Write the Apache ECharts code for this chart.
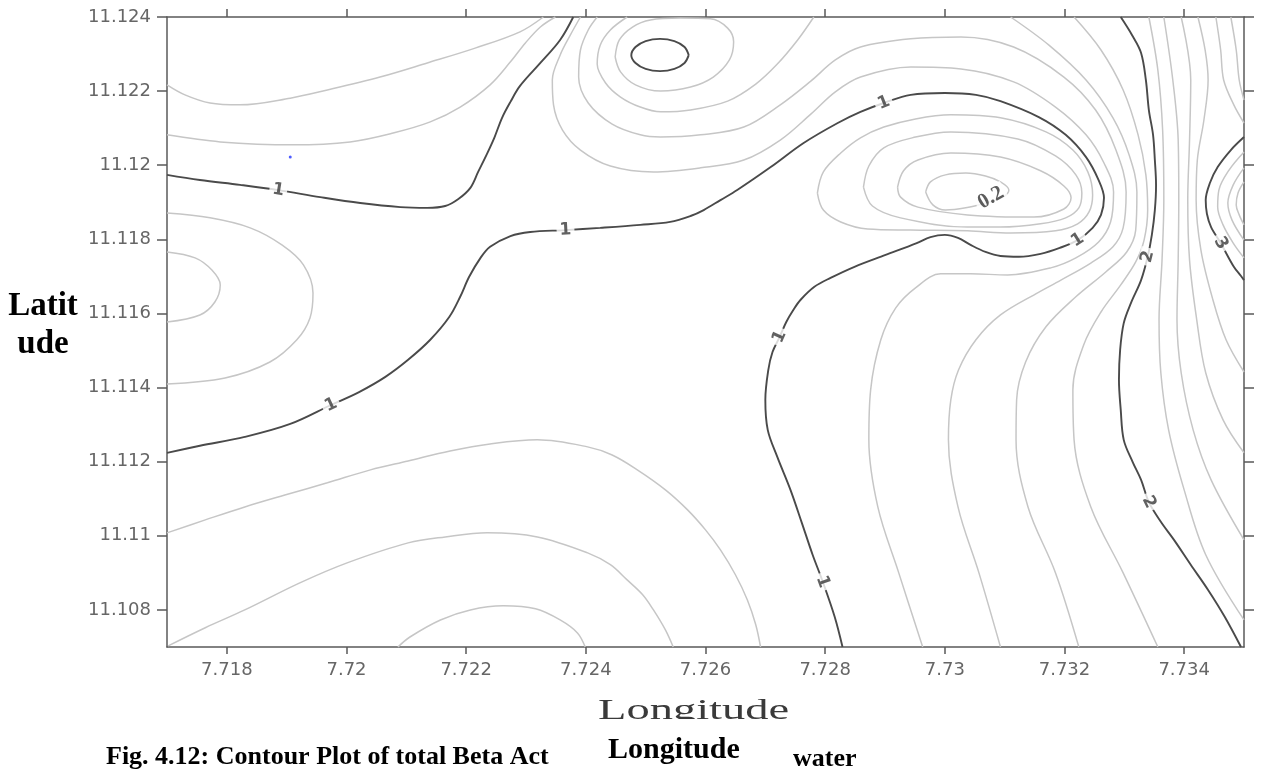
<!DOCTYPE html>
<html>
<head>
<meta charset="utf-8">
<title>Contour Plot of total Beta Activity</title>
<script src="https://cdn.jsdelivr.net/npm/echarts@6/dist/echarts.min.js"></script>
<style>
html, body { margin: 0; padding: 0; background: #fff; }
#main { width: 1269px; height: 771px; }
</style>
</head>
<body>
<div id="main"></div>
<script>
// axis ranges and tick labels
var lonRange = [7.717, 7.735];
var latRange = [11.107, 11.124];
var lonTicks = [7.718, 7.72, 7.722, 7.724, 7.726, 7.728, 7.73, 7.732, 7.734];
var latTicks = [11.108, 11.11, 11.112, 11.114, 11.116, 11.118, 11.12, 11.122, 11.124];

// contour lines [longitude, latitude]
// level 1 (dark lines)
var level1North = [[7.717,11.11974],[7.71755,11.1196],[7.71822,11.11947],[7.71886,11.11933],[7.71956,11.11914],[7.72023,11.11898],[7.7209,11.11887],[7.72135,11.11885],[7.72165,11.1189],[7.72187,11.11909],[7.72207,11.11939],[7.7222,11.11982],[7.72234,11.12028],[7.72247,11.12074],[7.7226,11.12128],[7.72274,11.12171],[7.7229,11.12214],[7.72324,11.12276],[7.72357,11.12338],[7.72379,11.124]];
var level1Main = [[7.717,11.11224],[7.71755,11.11243],[7.7183,11.11267],[7.71906,11.11302],[7.71974,11.11353],[7.72021,11.11388],[7.72065,11.11429],[7.72103,11.11475],[7.7214,11.11529],[7.72172,11.11591],[7.7219,11.11645],[7.72205,11.11699],[7.72224,11.1175],[7.7224,11.1178],[7.72274,11.11809],[7.72307,11.1182],[7.72366,11.11825],[7.72424,11.11831],[7.72491,11.11839],[7.72541,11.11847],[7.72575,11.11863],[7.72597,11.11879],[7.72625,11.11906],[7.72653,11.11933],[7.72709,11.11995],[7.72764,11.1206],[7.72821,11.12114],[7.72859,11.12144],[7.72898,11.12168],[7.72943,11.1219],[7.73,11.12195],[7.73052,11.1219],[7.73093,11.12173],[7.73157,11.1213],[7.73202,11.12082],[7.73236,11.12022],[7.73257,11.1196],[7.73266,11.11912],[7.73261,11.11866],[7.73247,11.11831],[7.73222,11.11798],[7.73192,11.11777],[7.7316,11.11761],[7.73124,11.11753],[7.73093,11.11755],[7.73068,11.11766],[7.73043,11.11785],[7.73022,11.11804],[7.73,11.11812],[7.72976,11.11806],[7.72953,11.1179],[7.72901,11.11758],[7.72849,11.11726],[7.72809,11.11696],[7.72782,11.11672],[7.72759,11.11637],[7.72747,11.1161],[7.72735,11.11577],[7.72724,11.11537],[7.72712,11.11496],[7.72705,11.11448],[7.727,11.11367],[7.72704,11.11286],[7.7272,11.11213],[7.72742,11.11124],[7.72761,11.11035],[7.72779,11.10949],[7.72796,11.10876],[7.72816,11.10781],[7.72829,11.107]];
// level 2 and 3 (dark lines)
var level2Peak = [[7.72572,11.12297],[7.72565,11.12276],[7.72548,11.1226],[7.72524,11.12254],[7.725,11.1226],[7.72483,11.12276],[7.72476,11.12297],[7.72483,11.12319],[7.725,11.12335],[7.72524,11.12341],[7.72548,11.12335],[7.72565,11.12319],[7.72572,11.12297]];
var level2East = [[7.73294,11.124],[7.73313,11.12351],[7.73328,11.12303],[7.73336,11.1223],[7.73341,11.12149],[7.73348,11.12082],[7.73351,11.12014],[7.73353,11.11947],[7.73351,11.11879],[7.73346,11.11812],[7.73339,11.11753],[7.73328,11.1169],[7.73311,11.11628],[7.73299,11.11574],[7.73293,11.11502],[7.73291,11.11421],[7.73294,11.1134],[7.73299,11.11259],[7.73314,11.11199],[7.73328,11.11151],[7.73341,11.11091],[7.73361,11.11038],[7.73383,11.10989],[7.73411,11.10922],[7.7344,11.10854],[7.73468,11.10781],[7.73495,11.107]];
var level3East = [[7.735,11.12076],[7.73478,11.12041],[7.73456,11.11995],[7.73443,11.11952],[7.73436,11.11906],[7.73438,11.11869],[7.73445,11.11833],[7.73461,11.1179],[7.73483,11.11726],[7.73495,11.11701],[7.735,11.1169]];

// intermediate levels (light lines)
var low02 = [[7.72968,11.11928],[7.72976,11.11955],[7.73001,11.11974],[7.73035,11.11979],[7.73068,11.11971],[7.73093,11.11955],[7.73107,11.11933],[7.73097,11.11914],[7.73068,11.11898],[7.73035,11.11885],[7.73001,11.11879],[7.7298,11.11893],[7.72968,11.11928]];
var low04 = [[7.72921,11.11941],[7.72931,11.11985],[7.72955,11.12014],[7.7301,11.12033],[7.73093,11.12022],[7.7316,11.11985],[7.73199,11.11944],[7.73211,11.11912],[7.73199,11.11882],[7.73149,11.1186],[7.73038,11.11866],[7.72955,11.11887],[7.72926,11.11914],[7.72921,11.11941]];
var low06 = [[7.72864,11.11941],[7.72873,11.11998],[7.72898,11.12047],[7.72951,11.12076],[7.7301,11.1209],[7.73122,11.12071],[7.73185,11.12025],[7.73219,11.11974],[7.73229,11.11925],[7.73224,11.11885],[7.73202,11.11858],[7.7316,11.11842],[7.73093,11.11833],[7.73038,11.11833],[7.72926,11.11858],[7.72879,11.1189],[7.72864,11.11941]];
var low08 = [[7.72787,11.11925],[7.72797,11.11982],[7.72826,11.12033],[7.72859,11.12074],[7.72898,11.12103],[7.72951,11.12125],[7.7301,11.12136],[7.73093,11.12128],[7.73169,11.1209],[7.73214,11.12041],[7.73239,11.11982],[7.73247,11.1192],[7.73241,11.11874],[7.73222,11.11842],[7.73185,11.11823],[7.7311,11.11817],[7.73038,11.11823],[7.72943,11.11825],[7.72871,11.11828],[7.72826,11.11847],[7.72797,11.11879],[7.72787,11.11925]];
var north06 = [[7.717,11.12217],[7.7173,11.1219],[7.71772,11.12168],[7.71822,11.12163],[7.71906,11.12181],[7.71968,11.12203],[7.72056,11.12238],[7.72135,11.12276],[7.72215,11.12316],[7.7229,11.1236],[7.72329,11.124]];
var north08 = [[7.717,11.12082],[7.71789,11.12063],[7.71911,11.12055],[7.72006,11.12063],[7.72078,11.12087],[7.7214,11.12117],[7.7219,11.12157],[7.7224,11.12217],[7.72274,11.12279],[7.72299,11.1233],[7.72324,11.12373],[7.72349,11.124]];
var west12 = [[7.717,11.11871],[7.71772,11.11858],[7.71839,11.11831],[7.71892,11.11785],[7.71928,11.11731],[7.71944,11.11655],[7.71939,11.11588],[7.71917,11.11529],[7.71872,11.11469],[7.71797,11.11426],[7.717,11.1141]];
var west14 = [[7.717,11.11766],[7.71747,11.1175],[7.71775,11.11717],[7.71789,11.11677],[7.7178,11.11631],[7.71755,11.11596],[7.717,11.11577]];
var south08 = [[7.717,11.11008],[7.71764,11.11043],[7.7183,11.11078],[7.71897,11.1111],[7.71968,11.11143],[7.7204,11.11178],[7.72103,11.11202],[7.72173,11.11229],[7.7224,11.11248],[7.72319,11.11259],[7.72403,11.1124],[7.72444,11.11218],[7.72486,11.11178],[7.72533,11.11124],[7.7257,11.1107],[7.726,11.11016],[7.72625,11.10962],[7.7265,11.10895],[7.7267,11.10827],[7.72684,11.1076],[7.72692,11.107]];
var south06 = [[7.71702,11.10703],[7.71764,11.10752],[7.7183,11.108],[7.71922,11.10873],[7.72001,11.10927],[7.72103,11.10981],[7.72165,11.10997],[7.72235,11.11008],[7.72319,11.10997],[7.72403,11.10954],[7.72441,11.10922],[7.72469,11.10881],[7.72495,11.10841],[7.72513,11.108],[7.72533,11.10746],[7.72546,11.107]];
var south04 = [[7.72086,11.107],[7.72106,11.10727],[7.72157,11.10773],[7.72207,11.108],[7.72262,11.10811],[7.72316,11.10803],[7.72357,11.10773],[7.72386,11.10738],[7.72399,11.107]];
var band12 = [[7.72391,11.124],[7.72374,11.12351],[7.72357,11.12297],[7.72344,11.1223],[7.72346,11.12163],[7.72361,11.12095],[7.72391,11.12041],[7.72441,11.11998],[7.72513,11.11982],[7.72592,11.11993],[7.72664,11.12014],[7.72725,11.12068],[7.72776,11.12138],[7.72817,11.12198],[7.72859,11.12238],[7.72943,11.12265],[7.73027,11.1226],[7.73115,11.12225],[7.73185,11.12157],[7.73236,11.12082],[7.73266,11.12006],[7.73282,11.11928],[7.73277,11.11847],[7.73257,11.11793],[7.73219,11.1175],[7.73177,11.11723],[7.73105,11.11704],[7.73043,11.11707],[7.72993,11.11707],[7.72951,11.11669],[7.72918,11.11615],[7.72893,11.11529],[7.72876,11.11394],[7.72873,11.11259],[7.72888,11.11078],[7.72923,11.109],[7.72963,11.107]];
var band14 = [[7.72419,11.124],[7.72404,11.12365],[7.72391,11.12311],[7.72388,11.12238],[7.72404,11.12168],[7.72444,11.12111],[7.72491,11.12082],[7.72525,11.12076],[7.72592,11.12082],[7.72664,11.12103],[7.72725,11.12163],[7.72776,11.12227],[7.72817,11.12284],[7.72859,11.12319],[7.72943,11.12341],[7.73027,11.12346],[7.73115,11.12319],[7.73199,11.12238],[7.73252,11.12149],[7.73286,11.12041],[7.73303,11.11928],[7.73298,11.11831],[7.73281,11.1178],[7.73244,11.11736],[7.73194,11.1169],[7.73152,11.11653],[7.73093,11.11596],[7.73052,11.11529],[7.73023,11.11448],[7.7301,11.11367],[7.73006,11.11259],[7.73022,11.11078],[7.73057,11.109],[7.73093,11.107]];
var peak16 = [[7.72469,11.124],[7.72441,11.12365],[7.72424,11.12324],[7.72419,11.12273],[7.72433,11.12222],[7.72458,11.12184],[7.72491,11.12157],[7.72525,11.12144],[7.72575,11.12149],[7.72637,11.12173],[7.72684,11.12219],[7.7272,11.12273],[7.72754,11.12338],[7.72781,11.124]];
var peak18 = [[7.72449,11.12292],[7.72456,11.12338],[7.72478,11.12373],[7.72508,11.12392],[7.72558,11.12397],[7.72608,11.12395],[7.72637,11.1237],[7.72647,11.12333],[7.7264,11.12284],[7.72613,11.12238],[7.72575,11.12211],[7.72525,11.122],[7.72483,11.12217],[7.72458,11.12252],[7.72449,11.12292]];
var band16 = [[7.7311,11.124],[7.73174,11.12324],[7.73236,11.1223],[7.73281,11.12128],[7.73308,11.12028],[7.73321,11.11928],[7.73319,11.11825],[7.73304,11.11766],[7.73269,11.11712],[7.73219,11.11645],[7.73169,11.11564],[7.73135,11.11469],[7.7312,11.11367],[7.73119,11.11259],[7.73139,11.11078],[7.73185,11.109],[7.73224,11.107]];
var band18 = [[7.73216,11.124],[7.73261,11.12311],[7.73298,11.12203],[7.73323,11.12082],[7.73336,11.11974],[7.73339,11.11879],[7.73333,11.11798],[7.73319,11.11739],[7.73294,11.11677],[7.73261,11.11604],[7.73232,11.11515],[7.73214,11.11394],[7.73216,11.11259],[7.73244,11.11078],[7.73298,11.109],[7.73356,11.107]];
var east22 = [[7.73341,11.124],[7.73356,11.12257],[7.73364,11.12095],[7.73366,11.11906],[7.73363,11.11744],[7.73358,11.11583],[7.73361,11.1144],[7.73374,11.11286],[7.734,11.11124],[7.73436,11.10949],[7.735,11.10773]];
var east24 = [[7.73366,11.124],[7.73381,11.1223],[7.7339,11.12068],[7.73391,11.11906],[7.7339,11.11744],[7.73388,11.11583],[7.73395,11.1144],[7.73415,11.11286],[7.73445,11.11151],[7.735,11.10989]];
var east26 = [[7.73395,11.124],[7.73411,11.1223],[7.73409,11.12068],[7.73406,11.11906],[7.73409,11.11744],[7.73421,11.11583],[7.73436,11.1144],[7.73465,11.11313],[7.735,11.11224]];
var east28 = [[7.73423,11.124],[7.73435,11.12311],[7.7344,11.1223],[7.73433,11.12122],[7.73422,11.12014],[7.7342,11.11906],[7.73428,11.11771],[7.73448,11.11637],[7.7347,11.11529],[7.735,11.11442]];
var corner28 = [[7.73453,11.124],[7.73461,11.12311],[7.73466,11.1223],[7.73483,11.12163],[7.735,11.12114]];
var corner26 = [[7.73478,11.124],[7.73487,11.12311],[7.73492,11.1223],[7.735,11.12176]];
var east32 = [[7.735,11.12036],[7.73475,11.11987],[7.73458,11.11933],[7.73456,11.11887],[7.73465,11.11839],[7.73482,11.1179],[7.735,11.1175]];
var east34 = [[7.735,11.11993],[7.73482,11.11947],[7.73473,11.11898],[7.7348,11.11852],[7.735,11.11798]];
var east36 = [[7.735,11.11955],[7.7349,11.11925],[7.73487,11.11893],[7.73492,11.11866],[7.735,11.11839]];

// contour labels [longitude, latitude, text] and their angles along the line
var contourLabels = [
    [7.71886, 11.11933, '1'], [7.71974, 11.11353, '1'], [7.72366, 11.11825, '1'],
    [7.72898, 11.12168, '1'], [7.73222, 11.11798, '1'], [7.72724, 11.11537, '1'],
    [7.72796, 11.10876, '1'], [7.73339, 11.11753, '2'], [7.73341, 11.11091, '2'],
    [7.73461, 11.1179, '3'], [7.73077, 11.11912, '0.2']
];
var labelAngles = [-9, 25, 3, 22, 32, 66, -70, 76, -64, -60, 30];

// sample station
var samplePoints = [[7.71906, 11.12022]];

var majorLines = [level1North, level1Main, level2Peak, level2East, level3East];
var minorLines = [low02, low04, low06, low08, north06, north08, west12, west14,
    south08, south06, south04, band12, band14, peak16, peak18, band16, band18,
    east22, east24, east26, east28, corner28, corner26, east32, east34, east36];

function contourPlot(divId) {
    var myChart = echarts.init(document.getElementById(divId));
    var tickFmt = function (v) { return String(+v.toFixed(3)); };
    var axisLine = { show: true, lineStyle: { color: '#5a5a5a', width: 1.5 } };

    var series = [];
    minorLines.forEach(function (d) {
        series.push({
            type: 'line', data: d, smooth: 0.35, showSymbol: false, silent: true, z: 2,
            lineStyle: { color: '#c6c6c6', width: 1.5 }
        });
    });
    majorLines.forEach(function (d) {
        series.push({
            type: 'line', data: d, smooth: 0.35, showSymbol: false, silent: true, z: 3,
            lineStyle: { color: '#4a4a4a', width: 1.9 }
        });
    });
    series.push({
        type: 'scatter', z: 6, silent: true, symbolSize: 1,
        itemStyle: { color: 'rgba(0,0,0,0)' },
        data: contourLabels.map(function (l, i) {
            var big = l[2] === '0.2';
            return {
                value: [l[0], l[1]], name: l[2],
                label: {
                    rotate: labelAngles[i],
                    fontSize: big ? 21 : 17,
                    fontWeight: 'bold',
                    fontFamily: big ? 'Liberation Serif' : 'DejaVu Sans',
                    color: big ? '#333' : '#3a3a3a'
                }
            };
        }),
        label: {
            show: true, position: 'inside', formatter: '{b}',
            backgroundColor: '#fff', padding: [0, 3]
        }
    });
    series.push({
        type: 'scatter', z: 7, silent: true, symbolSize: 3,
        itemStyle: { color: '#2233ff' }, data: samplePoints
    });

    var option = {
        animation: false,
        backgroundColor: '#fff',
        textStyle: { fontFamily: 'DejaVu Sans' },
        grid: { left: 167, right: 25, top: 17, bottom: 124, containLabel: false, outerBoundsMode: 'none' },
        xAxis: [{
            type: 'value', position: 'bottom', min: lonRange[0], max: lonRange[1],
            axisLine: axisLine,
            axisTick: { show: true, length: 7, customValues: lonTicks, lineStyle: { color: '#5a5a5a', width: 1.5 } },
            axisLabel: { customValues: lonTicks, formatter: tickFmt, color: '#666', fontSize: 18, margin: 14 },
            splitLine: { show: false }
        }, {
            type: 'value', position: 'top', min: lonRange[0], max: lonRange[1],
            axisLine: axisLine,
            axisTick: { show: true, length: 8, customValues: lonTicks, lineStyle: { color: '#5a5a5a', width: 1.5 } },
            axisLabel: { show: false },
            splitLine: { show: false }
        }],
        yAxis: [{
            type: 'value', position: 'left', min: latRange[0], max: latRange[1],
            axisLine: axisLine,
            axisTick: { show: true, length: 10, customValues: latTicks, lineStyle: { color: '#5a5a5a', width: 1.5 } },
            axisLabel: { customValues: latTicks, formatter: tickFmt, color: '#666', fontSize: 18, margin: 16 },
            splitLine: { show: false }
        }, {
            type: 'value', position: 'right', min: latRange[0], max: latRange[1],
            axisLine: axisLine,
            axisTick: { show: true, length: 10, customValues: latTicks, lineStyle: { color: '#5a5a5a', width: 1.5 } },
            axisLabel: { show: false },
            splitLine: { show: false }
        }],
        graphic: [
            { type: 'text', x: 43, y: 306, style: { text: 'Latit', font: 'bold 33px "Liberation Serif"', fill: '#000', align: 'center', verticalAlign: 'middle' } },
            { type: 'text', x: 43, y: 344, style: { text: 'ude', font: 'bold 33px "Liberation Serif"', fill: '#000', align: 'center', verticalAlign: 'middle' } },
            // plot's own axis title, cut off by the page caption
            { type: 'text', x: 598, y: 711, scaleX: 1.55, style: { text: 'Longitude', font: '30px "Liberation Serif"', fill: '#3a3a3a', align: 'left', verticalAlign: 'middle' } },
            { type: 'rect', shape: { x: 585, y: 719, width: 220, height: 52 }, style: { fill: '#fff' } },
            { type: 'text', x: 106, y: 757, style: { text: 'Fig. 4.12: Contour Plot of total Beta Act', font: 'bold 26px "Liberation Serif"', fill: '#000', align: 'left', verticalAlign: 'middle' } },
            { type: 'text', x: 608, y: 750, style: { text: 'Longitude', font: 'bold 30px "Liberation Serif"', fill: '#000', align: 'left', verticalAlign: 'middle' } },
            { type: 'text', x: 793, y: 759, style: { text: 'water', font: 'bold 26px "Liberation Serif"', fill: '#000', align: 'left', verticalAlign: 'middle' } }
        ],
        series: series
    };
    myChart.clear();
    myChart.setOption(option);
    return myChart;
}

contourPlot('main');
</script>
</body>
</html>
